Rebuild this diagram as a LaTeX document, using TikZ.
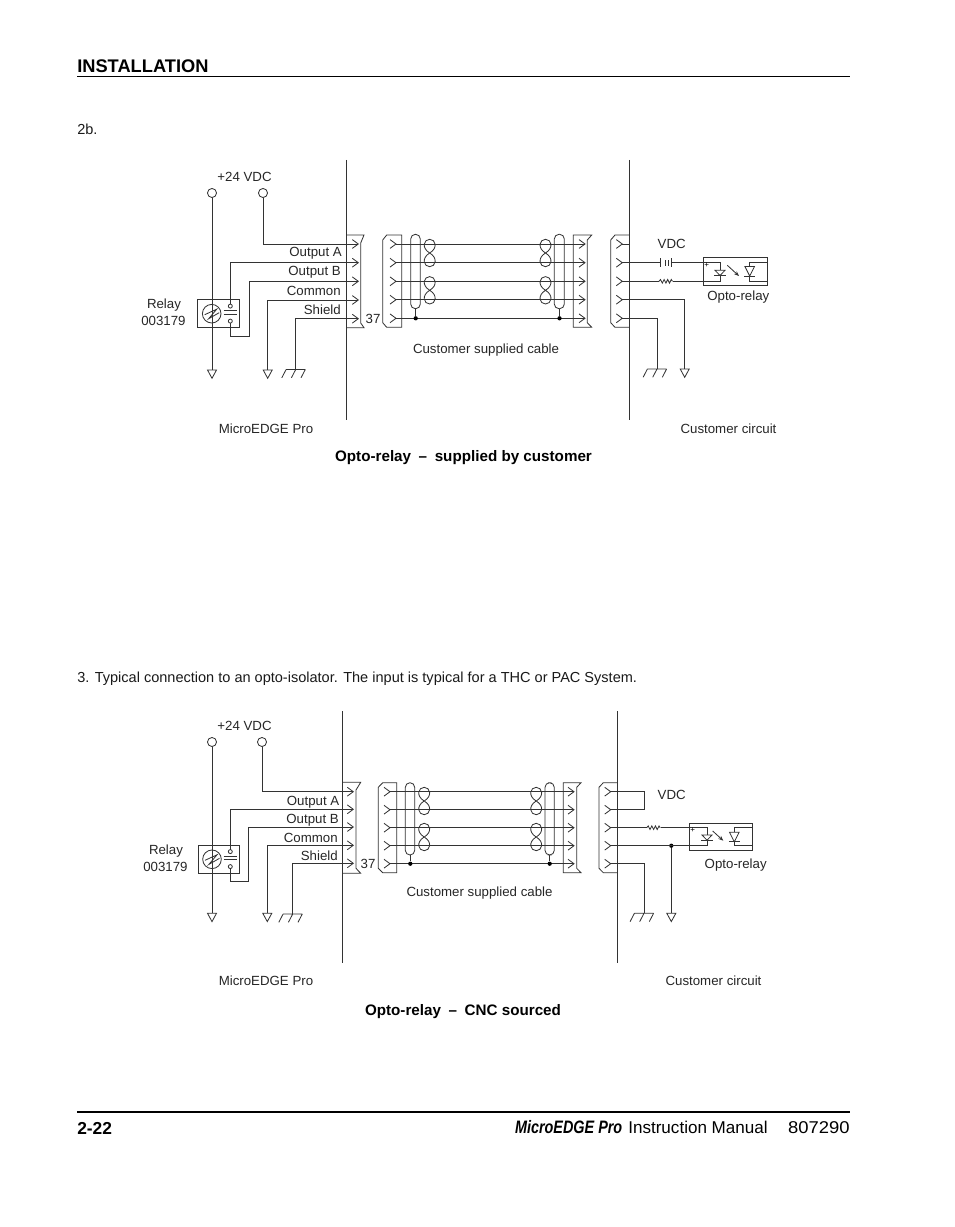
\documentclass[tikz,border=0pt]{standalone}
\usepackage{fontspec}
\setmainfont{Liberation Sans}
\usetikzlibrary{arrows.meta}
\newcommand\chev[2]{\draw[wire] (#1,#2) ++(-6,-4.4) -- ++(6,4.4) -- ++(-6,4.4);}
\newcommand\tridown[2]{\draw[wire] (#1-4.5,#2) -- (#1+4.5,#2) -- (#1,#2+8.3) -- cycle;}
\newcommand\gndsym[2]{\draw[wire] (#1-9.6,#2) -- (#1+9.6,#2)
  (#1-9.6,#2) -- ++(-4.3,8.3) (#1,#2) -- ++(-4.3,8.3) (#1+9.6,#2) -- ++(-4.3,8.3);}
\newcommand\twist[2]{\draw[wire] (#1,#2) .. controls (#1+8.5,#2-5) and (#1+6,#2-13.7) .. (#1,#2-13.7)
  .. controls (#1-6,#2-13.7) and (#1-8.5,#2-5) .. (#1,#2)
  .. controls (#1+8.5,#2+5) and (#1+6,#2+13.7) .. (#1,#2+13.7)
  .. controls (#1-6,#2+13.7) and (#1-8.5,#2+5) .. (#1,#2) -- cycle;}
\newcommand\resist[2]{\draw[wire] (#1,#2) -- ++(1.5,-1.8) -- ++(1.8,3.6) -- ++(1.8,-3.6) -- ++(1.8,3.6) -- ++(1.8,-3.6) -- ++(1.8,3.6) -- ++(1.8,-3.6) -- ++(1.2,1.8);}
\newcommand\relaysym[2]{\begin{scope}[shift={(#1,#2)}]
  \draw[wire] (0,0) circle[radius=9.3];
  \draw[wire] (-7,1) -- (5,-4.5) -- (-3,5) -- (7.5,-1);
 \end{scope}}
\newcommand\contact[2]{%
  \draw[wire] (#1-6.8,#2-3) -- (#1+6.8,#2-3) (#1-6.8,#2+0.6) -- (#1+6.8,#2+0.6);
  \draw[wire,fill=white] (#1,#2-7.6) circle[radius=2] (#1,#2+7.4) circle[radius=2];}
\newcommand\optodiode[2]{%
  \draw[wire] (#1-5,#2) -- (#1+5,#2) -- (#1,#2+5.2) -- cycle;
  \draw[wire] (#1-5.6,#2+5.2) -- (#1+5.6,#2+5.2);}
\newcommand\photodiode[2]{%
  \draw[wire] (#1-4.8,#2) -- (#1+4.8,#2) -- (#1,#2+9.5) -- cycle;
  \draw[wire] (#1-5.4,#2+9.5) -- (#1+5.4,#2+9.5);}
\tikzset{
 wire/.style={line width=0.62pt,draw=black!80},
 term/.style={circle,draw=black!80,line width=0.62pt,fill=white,minimum size=6.8pt,inner sep=0pt},
 lab/.style={font=\fontsize{9.95}{11}\selectfont,inner sep=0pt,text=black!85,text height=7pt,text depth=0pt},
 rlab/.style={lab,anchor=east},
 body/.style={font=\fontsize{10.9}{12}\selectfont,inner sep=0pt,anchor=west,text=black!90,text height=7.5pt,text depth=0pt},
 captxt/.style={font=\fontsize{11.4}{13}\selectfont\bfseries,inner sep=0pt,text=black,text height=8pt,text depth=0pt},
 dotn/.style={circle,fill=black,minimum size=3.2pt,inner sep=0pt},
 optoarrow/.style={wire,-{Stealth[length=3.8pt,width=3pt]}},
 foot/.style={inner sep=0pt,anchor=base east},
}
\begin{document}
\begin{tikzpicture}[x=0.75pt,y=-0.75pt]
\useasboundingbox (0,0) rectangle (954,1227);
% page furniture
\node[inner sep=0pt,anchor=west,font=\fontsize{13.7}{15}\selectfont\bfseries] (hd) at (77,66.3) {INSTALLATION};
\draw[line width=0.75pt] (77,76.6) -- (850,76.6);
\node[body] (tb) at (77,129.7) {2b.};
\node[body] (t3) at (77,677) {3. Typical connection to an opto-isolator. The input is typical for a THC or PAC System.};
\draw[line width=1.5pt] (77,1112) -- (850,1112);
\node[inner sep=0pt,anchor=west,font=\fontsize{13}{14}\selectfont\bfseries] (pg) at (77,1128) {2-22};
\node[foot,font=\fontsize{13.5}{14}\selectfont\bfseries\itshape,xscale=0.8,transform shape] (ftb) at (622.5,1133) {MicroEDGE Pro};
\node[foot,font=\fontsize{12.8}{14}\selectfont] (fti) at (768,1133) {Instruction Manual};
\node[foot,font=\fontsize{12.8}{14}\selectfont,xscale=1.08,transform shape] (ftn) at (850,1133) {807290};

% ============ diagram 1 ============
\draw[wire] (346,160) -- (346,420) (629,160) -- (629,420);
\node[term] (p1) at (212,193) {};
\node[term] (p2) at (263,193) {};
\coordinate (g1) at (212,370);
\coordinate (g2) at (267.7,370);
\coordinate (g3) at (295.7,369.5);
\coordinate (a1) at (358.3,244);
\coordinate (a2) at (358.3,262.7);
\coordinate (a3) at (358.3,281.3);
\coordinate (a4) at (358.3,300);
\coordinate (a5) at (358.3,318.7);
\foreach \y in {244,262.7,281.3,300,318.7} {\chev{358.3}{\y}}
\draw[wire] (346,235) -- (364,235) -- (360.7,243) -- (360.7,323) -- (364,327.7) -- (346,327.7);
\draw[wire] (p1) -- (g1);
\tridown{212}{370}
\draw[wire] (p2) |- (a1);
\draw[wire] (a2) -| (230.3,306);
\draw[wire] (230.3,320.7) -- (230.3,336.7) -- (249,336.7) |- (a3);
\draw[wire] (a4) -| (g2); \tridown{267.7}{370}
\draw[wire] (a5) -| (g3); \gndsym{295.7}{369.5}
\draw[wire] (197.7,299.3) rectangle (239.3,327.3);
\relaysym{211.7}{313.7}
\contact{230.3}{313.7}
\node[lab] (l1) at (244.5,177) {+24 VDC};
\node[rlab] (oa) at (342,252) {Output A};
\node[rlab] (ob) at (341,270.5) {Output B};
\node[rlab] (co) at (341,290.5) {Common};
\node[rlab] (sh) at (341,309.5) {Shield};
\node[lab] (re) at (164,304) {Relay};
\node[lab] (rn) at (163.5,321) {003179};
\node[lab] (n37) at (373,319) {37};
% cable
\draw[wire] (401.7,235) -- (386.7,235) -- (382.7,240) -- (382.7,322.7) -- (386.7,327.3) -- (401.7,327.3) -- cycle;
\draw[wire] (573.3,235) -- (591.7,235) -- (587.3,240) -- (587.3,322.7) -- (591.7,327.3) -- (573.3,327.3) -- cycle;
\foreach \y [count=\i] in {244,262.7,281.3,299.7,318.3} {
  \chev{396}{\y} \chev{585}{\y}
  \coordinate (cl\i) at (396,\y); \coordinate (cr\i) at (585,\y);
  \draw[wire] (cl\i) -- (cr\i);
}
\draw[wire,rounded corners=3.5pt] (410.7,234.3) rectangle (420.3,308.7);
\draw[wire,rounded corners=3.5pt] (554.3,234.3) rectangle (564.3,308.7);
\node[dotn] (d1) at (415.7,318.3) {};
\node[dotn] (d2) at (559.5,318.3) {};
\draw[wire] (415.7,308.7) -- (d1) (559.5,308.7) -- (d2);
\twist{429.7}{253} \twist{429.7}{290.3}
\twist{545.5}{253} \twist{545.5}{290.3}
\node[lab] (cs) at (486,348.5) {Customer supplied cable};
% right
\draw[wire] (629,235) -- (615,235) -- (610.7,240) -- (610.7,322.7) -- (615,327.3) -- (629,327.3);
\foreach \y [count=\i] in {244,262.7,281.3,299.7,318.3} {
  \chev{622.3}{\y} \coordinate (r\i) at (622.3,\y);
}
\draw[wire] (r1) -- (629,244);
\draw[wire] (r2) -- (660.7,262.7) (671.7,262.7) -- (720,262.7) -- (720,270.3);
\draw[wire] (660.7,258.3) -- (660.7,267) (671.7,258.3) -- (671.7,267)
  (665,260) -- (665,265.5) (668.3,260) -- (668.3,265.5);
\draw[wire] (r3) -- (659,281.3) (673.3,281.3) -- (720,281.3) -- (720,275.5);
\resist{659}{281.3}
\draw[wire] (703.3,257.4) rectangle (767.7,285);
\optodiode{720}{270.3}
\draw[optoarrow] (727.3,265.3) -- (739,276);
\photodiode{749.7}{266.5}
\draw[wire] (749.7,266.5) -- (749.7,262.7) -- (767.7,262.7) (749.7,276) -- (749.7,281.3) -- (767.7,281.3);
\node[inner sep=0pt,font=\fontsize{6}{6}\selectfont] (pl) at (706.7,265) {+};
\draw[wire] (r4) -| (684.7,369); \tridown{684.7}{369}
\draw[wire] (r5) -| (657,369); \gndsym{657}{369}
\node[lab] (vd) at (671.7,244) {VDC};
\node[lab] (or) at (738.3,295.7) {Opto-relay};
\node[lab] (me) at (266,428.5) {MicroEDGE Pro};
\node[lab] (cc) at (728.5,428.5) {Customer circuit};
\node[captxt] (ca) at (463.5,456) {Opto-relay\hspace{0.5em}–\hspace{0.5em}supplied by customer};

% ============ diagram 2 ============
\draw[wire] (342.7,711) -- (342.7,963) (617.3,711) -- (617.3,963);
\node[term] (q1) at (212,742) {};
\node[term] (q2) at (262,742) {};
\coordinate (h2) at (267.3,913.3);
\coordinate (h3) at (292.7,914);
\foreach \y [count=\i] in {791.7,809.3,827,845.3,863.3} {
  \chev{353.3}{\y} \coordinate (b\i) at (353.3,\y);
}
\draw[wire] (342.7,782.3) -- (360.7,782.3) -- (356,790) -- (356,868.3) -- (360.7,873.3) -- (342.7,873.3);
\draw[wire] (q1) -- (212,913.3); \tridown{212}{913.3}
\draw[wire] (q2) |- (b1);
\draw[wire] (b2) -| (230.3,851.7);
\draw[wire] (230.3,866.7) -- (230.3,881.7) -- (248.3,881.7) |- (b3);
\draw[wire] (b4) -| (h2); \tridown{267.3}{913.3}
\draw[wire] (b5) -| (h3); \gndsym{292.7}{914}
\draw[wire] (198.3,845.7) rectangle (239.3,873);
\relaysym{212}{859.3}
\contact{230.3}{859.2}
\node[lab] (l2) at (244.5,726) {+24 VDC};
\node[rlab] (oa2) at (339.5,800.7) {Output A};
\node[rlab] (ob2) at (339,818.7) {Output B};
\node[rlab] (co2) at (338,838) {Common};
\node[rlab] (sh2) at (338,856) {Shield};
\node[lab] (re2) at (166,850) {Relay};
\node[lab] (rn2) at (165.5,867) {003179};
\node[lab] (n372) at (368,864) {37};
% cable
\draw[wire] (396.7,782.7) -- (382.7,782.7) -- (378.3,787.3) -- (378.3,868.3) -- (382.7,872.7) -- (396.7,872.7) -- cycle;
\draw[wire] (563.3,782.7) -- (581,782.7) -- (576.7,787.3) -- (576.7,868.3) -- (581,872.7) -- (563.3,872.7) -- cycle;
\foreach \y [count=\i] in {791.7,809.7,827.7,845.7,863.7} {
  \chev{390}{\y} \chev{574}{\y}
  \coordinate (el\i) at (390,\y); \coordinate (er\i) at (574,\y);
  \draw[wire] (el\i) -- (er\i);
}
\draw[wire,rounded corners=3.5pt] (405.3,782.7) rectangle (414.7,855);
\draw[wire,rounded corners=3.5pt] (545,782.7) rectangle (554.3,855);
\node[dotn] (d3) at (410.3,863.7) {};
\node[dotn] (d4) at (549.7,863.7) {};
\draw[wire] (410.3,855) -- (d3) (549.7,855) -- (d4);
\twist{424.2}{801} \twist{424.2}{837}
\twist{536.2}{801} \twist{536.2}{837}
\node[lab] (cs2) at (479.5,891.5) {Customer supplied cable};
% right
\draw[wire] (617.3,782.7) -- (603.3,782.7) -- (599,787.3) -- (599,868.3) -- (603.3,872.7) -- (617.3,872.7);
\foreach \y [count=\i] in {791.7,809.7,827.7,845.7,863.7} {
  \chev{610.7}{\y} \coordinate (s\i) at (610.7,\y);
}
\draw[wire] (s1) -- (644,791.7) -- (644,809.7) -- (s2);
\draw[wire] (s3) -- (646.7,827.7) (660.7,827.7) -- (707,827.7) -- (707,835);
\resist{646.7}{827.7}
\node[dotn] (d5) at (671.3,845.7) {};
\draw[wire] (s4) -- (707,845.7) -- (707,840);
\draw[wire] (d5) -- (671.3,913.3); \tridown{671.3}{913.3}
\draw[wire] (s5) -| (644,913.3); \gndsym{644}{913.3}
\draw[wire] (689,823.3) rectangle (752.3,850.3);
\optodiode{707}{835}
\draw[optoarrow] (712.7,831) -- (723.3,840.7);
\photodiode{734.3}{832.3}
\draw[wire] (734.3,832.3) -- (734.3,827.7) -- (752.3,827.7) (734.3,841.8) -- (734.3,845.7) -- (752.3,845.7);
\node[inner sep=0pt,font=\fontsize{6}{6}\selectfont] (pl2) at (692.7,830) {+};
\node[lab] (vd2) at (671.7,795) {VDC};
\node[lab] (or2) at (735.7,864) {Opto-relay};
\node[lab] (me2) at (266,980.5) {MicroEDGE Pro};
\node[lab] (cc2) at (713.5,980.5) {Customer circuit};
\node[captxt] (ca2) at (463,1010) {Opto-relay\hspace{0.5em}–\hspace{0.5em}CNC sourced};
\end{tikzpicture}
\end{document}
